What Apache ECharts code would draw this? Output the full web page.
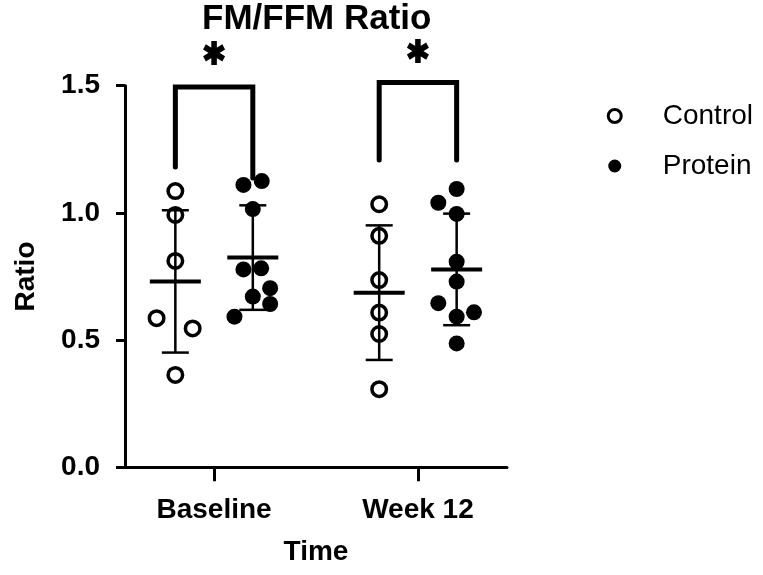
<!DOCTYPE html>
<html><head><meta charset="utf-8">
<script src="https://cdn.jsdelivr.net/npm/echarts@6/dist/echarts.min.js"></script>
<style>html,body{margin:0;padding:0;background:#fff}#c{width:763px;height:575px}</style>
</head><body><div id="c"></div>
<script>
// ---- data ----
const categories = ['Baseline', 'Week 12'];
const groups = ['Control', 'Protein'];
const controlBaseline = [1.086, 0.992, 0.811, 0.586, 0.546, 0.363];
const controlBaselineJitter = [0, 0, 0, -0.092, 0.085, 0];
const proteinBaseline = [1.110, 1.125, 1.015, 0.778, 0.782, 0.704, 0.671, 0.642, 0.592];
const proteinBaselineJitter = [-0.046, 0.044, 0, -0.046, 0.041, 0.085, 0, 0.085, -0.09];
const controlWeek12 = [1.034, 0.910, 0.736, 0.608, 0.524, 0.307];
const controlWeek12Jitter = [0, 0, 0, 0, 0, 0];
const proteinWeek12 = [1.094, 1.040, 0.996, 0.808, 0.730, 0.645, 0.609, 0.592, 0.487];
const proteinWeek12Jitter = [0, -0.09, 0, 0, 0, -0.09, 0.085, 0, 0];
const yTicks = [0, 0.5, 1.0, 1.5];
const sigLabels = ['*', '*'];
const bracketTop = [1.495, 1.513];
const bracketLeftEnd = [1.18, 1.208];
const bracketRightEnd = [1.137, 1.208];
const starLevel = [1.629, 1.636];

// ---- layout helpers ----
const catPos = [1, 2];
const groupOffset = [-0.19, 0.19];
const FONT = '"Liberation Sans", Arial, Helvetica, sans-serif';

function pts(vals, jit, ci, gi) {
  return vals.map((v, i) => [catPos[ci] + groupOffset[gi] + jit[i], v]);
}
function mean(a) { return a.reduce((s, v) => s + v, 0) / a.length; }
function sd(a) { const m = mean(a); return Math.sqrt(a.reduce((s, v) => s + (v - m) * (v - m), 0) / (a.length - 1)); }

const controlPts = pts(controlBaseline, controlBaselineJitter, 0, 0).concat(pts(controlWeek12, controlWeek12Jitter, 1, 0));
const proteinPts = pts(proteinBaseline, proteinBaselineJitter, 0, 1).concat(pts(proteinWeek12, proteinWeek12Jitter, 1, 1));

const summary = [
  [catPos[0] + groupOffset[0], mean(controlBaseline), sd(controlBaseline)],
  [catPos[0] + groupOffset[1], mean(proteinBaseline), sd(proteinBaseline)],
  [catPos[1] + groupOffset[0], mean(controlWeek12), sd(controlWeek12)],
  [catPos[1] + groupOffset[1], mean(proteinWeek12), sd(proteinWeek12)]
];
const brackets = catPos.map((c, i) => [c, bracketTop[i], bracketLeftEnd[i], bracketRightEnd[i]]);
const stars = catPos.map((c, i) => ({ value: [c, starLevel[i]], name: sigLabels[i] }));

const starPath = 'path://M-2.5 -10 L2.5 -10 L2.5 10 L-2.5 10 Z M7.41 -7.17 L9.91 -2.83 L-7.41 7.17 L-9.91 2.83 Z M9.91 2.83 L7.41 7.17 L-9.91 -2.83 L-7.41 -7.17 Z';

const chart = echarts.init(document.getElementById('c'), null, { renderer: 'canvas' });
chart.setOption({
  animation: false,
  backgroundColor: '#fff',
  title: {
    text: 'FM/FFM Ratio', left: 197, top: -3,
    textStyle: { fontFamily: FONT, fontSize: 35, fontWeight: 'bold', color: '#000' }
  },
  legend: {
    data: [{ name: groups[0], itemStyle: { borderWidth: 3, borderColor: '#000' } }, { name: groups[1] }],
    orient: 'vertical', right: 10, top: 102, padding: 0,
    itemWidth: 86, itemHeight: 13, itemGap: 22,
    textStyle: { fontFamily: FONT, fontSize: 28, color: '#000' }
  },
  grid: { left: 125, right: 256, top: 85.7, bottom: 107.7 },
  xAxis: {
    type: 'value', min: 0.563, max: 2.437,
    name: 'Time', nameLocation: 'middle', nameGap: 71,
    nameTextStyle: { fontFamily: FONT, fontSize: 28, fontWeight: 'bold', color: '#000' },
    splitLine: { show: false },
    axisLine: { show: true, lineStyle: { color: '#000', width: 3 } },
    axisTick: { show: true, length: 14, lineStyle: { color: '#000', width: 3 }, customValues: catPos },
    axisLabel: {
      customValues: catPos, margin: 29,
      formatter: v => categories[catPos.indexOf(v)] || '',
      fontFamily: FONT, fontSize: 28, fontWeight: 'bold', color: '#000'
    }
  },
  yAxis: {
    type: 'value', min: 0, max: 1.5, interval: 0.5,
    name: 'Ratio', nameLocation: 'middle', nameGap: 85,
    nameTextStyle: { fontFamily: FONT, fontSize: 28, fontWeight: 'bold', color: '#000' },
    splitLine: { show: false },
    axisLine: { show: true, lineStyle: { color: '#000', width: 3 } },
    axisTick: { show: true, length: 9, lineStyle: { color: '#000', width: 3 } },
    axisLabel: {
      margin: 25, formatter: v => yTicks.includes(v) ? v.toFixed(1) : '',
      fontFamily: FONT, fontSize: 28, fontWeight: 'bold', color: '#000'
    }
  },
  series: [
    {
      name: groups[0], type: 'scatter', data: controlPts, z: 2,
      symbol: 'circle', symbolSize: 14.5,
      itemStyle: { color: 'rgba(255,255,255,0)', borderColor: '#000', borderWidth: 3.5, opacity: 1 }
    },
    {
      name: groups[1], type: 'scatter', data: proteinPts, z: 2,
      symbol: 'circle', symbolSize: 16,
      itemStyle: { color: '#000', opacity: 1 }
    },
    {
      type: 'custom', data: summary, z: 3, clip: false, silent: true,
      renderItem: function (params, api) {
        const x = api.value(0), m = api.value(1), s = api.value(2);
        const c = api.coord([x, m]);
        const hi = api.coord([x, m + s]);
        const lo = api.coord([x, m - s]);
        const st = { stroke: '#000', lineWidth: 2.5 };
        return {
          type: 'group', children: [
            { type: 'line', shape: { x1: c[0], y1: hi[1], x2: c[0], y2: lo[1] }, style: st },
            { type: 'line', shape: { x1: c[0] - 13.5, y1: hi[1], x2: c[0] + 13.5, y2: hi[1] }, style: st },
            { type: 'line', shape: { x1: c[0] - 13.5, y1: lo[1], x2: c[0] + 13.5, y2: lo[1] }, style: st },
            { type: 'line', shape: { x1: c[0] - 25.5, y1: c[1], x2: c[0] + 25.5, y2: c[1] }, style: { stroke: '#000', lineWidth: 4 } }
          ]
        };
      }
    },
    {
      type: 'custom', data: brackets, z: 1, clip: false, silent: true,
      renderItem: function (params, api) {
        const x = api.value(0);
        const a = api.coord([x + groupOffset[0], api.value(2)]);
        const b = api.coord([x + groupOffset[0], api.value(1)]);
        const c = api.coord([x + groupOffset[1], api.value(1)]);
        const d = api.coord([x + groupOffset[1], api.value(3)]);
        return {
          type: 'polyline', shape: { points: [a, b, c, d] },
          style: { stroke: '#000', lineWidth: 5, fill: null, lineCap: 'round', lineJoin: 'miter' }
        };
      }
    },
    {
      type: 'scatter', data: stars, z: 3, clip: false, silent: true,
      symbol: starPath, symbolSize: [22, 24],
      itemStyle: { color: '#000', opacity: 1 }
    }
  ]
});
</script></body></html>
